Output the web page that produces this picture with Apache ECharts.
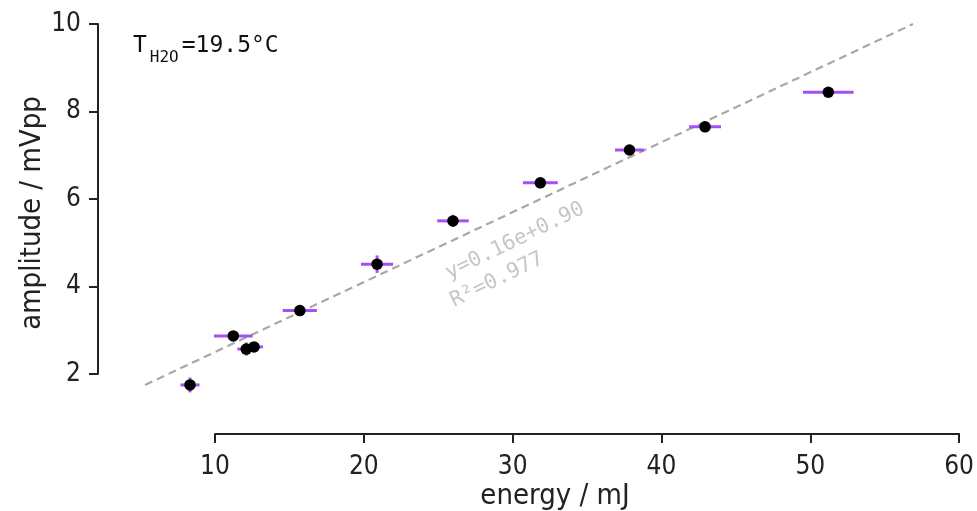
<!DOCTYPE html>
<html>
<head>
<meta charset="utf-8">
<script src="https://cdn.jsdelivr.net/npm/echarts@6/dist/echarts.min.js"></script>
<style>
  html, body { margin: 0; padding: 0; background: #fff; }
  #main { width: 977px; height: 511px; }
</style>
</head>
<body>
<div id="main"></div>
<script>
// measured points: energy (mJ), amplitude (mVpp) and their errors
var energy    = [8.32, 11.23, 12.10, 12.62, 15.70, 20.89, 25.99, 31.86, 37.85, 42.93, 51.21];
var amplitude = [1.75, 2.87, 2.57, 2.62, 3.45, 4.51, 5.50, 6.37, 7.12, 7.65, 8.44];
var energyErr = [0.64, 1.30, 0.60, 0.60, 1.15, 1.08, 1.06, 1.17, 0.97, 1.07, 1.70];
var ampErr    = [0.17, 0.05, 0.15, 0.05, 0.11, 0.20, 0.14, 0.05, 0.04, 0.04, 0.04];

// fitted line y = 0.16e + 0.90, ends
var fitLine = [[5.3, 1.75], [56.9, 10.0]];

var xTicks = [10, 20, 30, 40, 50, 60];
var yTicks = [2, 4, 6, 8, 10];

var labelFont = '"Liberation Sans Narrow", "DejaVu Sans Condensed", Roboto, sans-serif';
var monoFont = '"DejaVu Sans Mono", "Liberation Mono", monospace';

var chartDom = document.getElementById('main');
var myChart = echarts.init(chartDom, null, { renderer: 'canvas' });

var points = energy.map(function (e, i) { return [e, amplitude[i]]; });
var errData = energy.map(function (e, i) { return [e, amplitude[i], energyErr[i], ampErr[i]]; });

function renderErr(params, api)
{
    var x = api.value(0), y = api.value(1);
    var dx = api.value(2), dy = api.value(3);
    var l = api.coord([x - dx, y]);
    var r = api.coord([x + dx, y]);
    var t = api.coord([x, y + dy]);
    var b = api.coord([x, y - dy]);
    var style = { stroke: '#a64ff2', lineWidth: 3 };
    return {
        type: 'group',
        children: [
            { type: 'line', shape: { x1: l[0], y1: l[1], x2: r[0], y2: r[1] }, style: style },
            { type: 'line', shape: { x1: t[0], y1: t[1], x2: b[0], y2: b[1] }, style: style }
        ]
    };
}

// draws the whole fit as one dashed polyline (no clipping outside the axes)
function renderFit(params, api)
{
    if (params.dataIndex !== 0) return;
    var pts = fitLine.map(function (p) { return api.coord(p); });
    return {
        type: 'polyline',
        shape: { points: pts },
        style: { stroke: '#a8a8a8', lineWidth: 2.2, lineDash: [8, 5], fill: null }
    };
}

var axisCommon = {
    axisLine: { show: true, lineStyle: { color: '#222', width: 2 } },
    axisTick: { show: true, length: 9, lineStyle: { color: '#222', width: 2 } },
    splitLine: { show: false },
    axisLabel: { color: '#222', fontFamily: labelFont, fontSize: 26 }
};

var option = {
    animation: false,
    backgroundColor: '#fff',
    grid: { left: 215, right: 17, top: 24, bottom: 137 },
    xAxis: Object.assign({}, axisCommon, {
        type: 'value',
        min: xTicks[0],
        max: xTicks[xTicks.length - 1],
        interval: 10,
        offset: 60,
        axisLabel: Object.assign({}, axisCommon.axisLabel, { margin: 20 })
    }),
    yAxis: Object.assign({}, axisCommon, {
        type: 'value',
        min: yTicks[0],
        max: yTicks[yTicks.length - 1],
        interval: 2,
        offset: 117,
        axisLabel: Object.assign({}, axisCommon.axisLabel, { margin: 17 })
    }),
    series: [
        {
            name: 'fit',
            type: 'custom',
            data: fitLine,
            clip: false,
            silent: true,
            renderItem: renderFit,
            z: 1
        },
        {
            name: 'errors',
            type: 'custom',
            data: errData,
            clip: false,
            renderItem: renderErr,
            z: 2
        },
        {
            name: 'data',
            type: 'scatter',
            data: points,
            clip: false,
            symbol: 'circle',
            symbolSize: 11.5,
            itemStyle: { color: '#000', opacity: 1 },
            z: 3
        }
    ],
    graphic: [
        {
            type: 'text',
            left: 133, top: 35,
            style: {
                text: '{t|T}{s|H2O}{t|=19.5°C}',
                fill: '#111',
                rich: {
                    t: { fontFamily: monoFont, fontSize: 23, lineHeight: 38, fill: '#111' },
                    s: { fontFamily: monoFont, fontSize: 16, verticalAlign: 'bottom', lineHeight: 16, padding: [0, 3, 0, 3], fill: '#111' }
                }
            }
        },
        {
            type: 'text',
            x: 515, y: 241,
            rotation: 26 * Math.PI / 180,
            style: {
                text: 'y=0.16e+0.90',
                fontFamily: monoFont, fontSize: 21,
                fill: '#c6c6c6', align: 'center', verticalAlign: 'middle'
            }
        },
        {
            type: 'text',
            x: 497, y: 280,
            rotation: 26 * Math.PI / 180,
            style: {
                text: 'R²=0.977',
                fontFamily: monoFont, fontSize: 21,
                fill: '#c6c6c6', align: 'center', verticalAlign: 'middle'
            }
        },
        {
            type: 'text',
            x: 555, y: 496,
            style: {
                text: 'energy / mJ',
                fontFamily: labelFont, fontSize: 29,
                fill: '#222', align: 'center', verticalAlign: 'middle'
            }
        },
        {
            type: 'text',
            x: 32, y: 213,
            rotation: Math.PI / 2,
            style: {
                text: 'amplitude / mVpp',
                fontFamily: labelFont, fontSize: 29,
                fill: '#222', align: 'center', verticalAlign: 'middle'
            }
        }
    ]
};

myChart.setOption(option);
window.addEventListener('resize', myChart.resize);
</script>
</body>
</html>
